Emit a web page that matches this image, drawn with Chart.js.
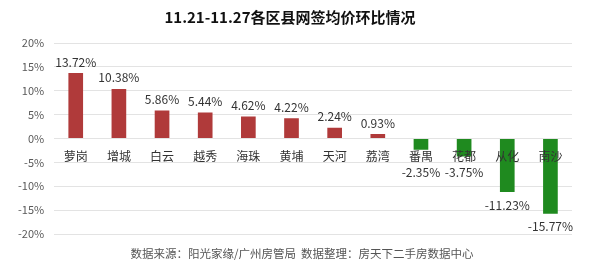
<!DOCTYPE html>
<html>
<head>
  <meta charset="utf-8">
  <title>11.21-11.27各区县网签均价环比情况</title>
  <script src="https://cdn.jsdelivr.net/npm/chart.js"></script>
  <style>
    html, body { margin: 0; padding: 0; background: #fff; }
    #wrap { width: 600px; height: 274px; }
  </style>
</head>
<body>
<div id="wrap"><canvas id="priceChart" width="600" height="274"></canvas></div>
<script>
  // 区县 & 环比 (%)
  const districts = ['萝岗', '增城', '白云', '越秀', '海珠', '黄埔', '天河', '荔湾', '番禺', '花都', '从化', '南沙'];
  const changes = [13.72, 10.38, 5.86, 5.44, 4.62, 4.22, 2.24, 0.93, -2.35, -3.75, -11.23, -15.77];
  const yTicks = [20, 15, 10, 5, 0, -5, -10, -15, -20];
  const footerText = '数据来源：阳光家缘/广州房管局  数据整理：房天下二手房数据中心';

  const FONT = '"Microsoft YaHei", "Noto Sans CJK SC", "Noto Sans", sans-serif';
  const RED = '#B03A3A';
  const GREEN = '#1F8A1F';

  // 类别名和数值标签画在0线附近
  const labelPlugin = {
    id: 'labels',
    afterDatasetsDraw(chart) {
      const ctx = chart.ctx;
      const y = chart.scales.y;
      const zeroY = y.getPixelForValue(0);
      const meta = chart.getDatasetMeta(0);
      ctx.save();
      ctx.textAlign = 'center';
      ctx.textBaseline = 'middle';
      meta.data.forEach((bar, i) => {
        const v = changes[i];
        // 类别名
        ctx.font = '12px ' + FONT;
        ctx.fillStyle = '#333';
        ctx.fillText(districts[i], bar.x, zeroY + 18);
        // 数值
        ctx.fillStyle = '#333';
        let ly;
        if (v >= 0) {
          ly = bar.y - 11;
        } else {
          ly = Math.max(bar.y + 13, zeroY + 34);
        }
        ctx.fillText(v.toFixed(2) + '%', bar.x, ly);
      });
      // 底部说明
      ctx.font = '11.5px ' + FONT;
      ctx.fillStyle = '#555';
      ctx.fillText(footerText, 302, 254);
      ctx.restore();
    }
  };

  new Chart(document.getElementById('priceChart'), {
    type: 'bar',
    data: {
      labels: districts,
      datasets: [{
        data: changes,
        backgroundColor: changes.map(v => v >= 0 ? RED : GREEN),
        barPercentage: 0.34,
        categoryPercentage: 1.0
      }]
    },
    options: {
      responsive: false,
      animation: false,
      layout: { padding: { left: 8, right: 28, top: 0, bottom: 40 } },
      plugins: {
        legend: { display: false },
        tooltip: { enabled: false },
        title: {
          display: true,
          text: '11.21-11.27各区县网签均价环比情况',
          font: { family: FONT, size: 15, weight: 'bold' },
          color: '#111',
          padding: { top: 8, bottom: 17 }
        }
      },
      scales: {
        x: { display: false },
        y: {
          min: -20,
          max: 20,
          afterBuildTicks(axis) { axis.ticks = yTicks.map(v => ({ value: v })); },
          ticks: {
            callback: v => v + '%',
            font: { family: FONT, size: 11 },
            color: '#595959',
            padding: 10
          },
          grid: { color: '#e3e3e3', drawTicks: false },
          border: { display: false }
        }
      }
    },
    plugins: [labelPlugin]
  });
</script>
</body>
</html>
